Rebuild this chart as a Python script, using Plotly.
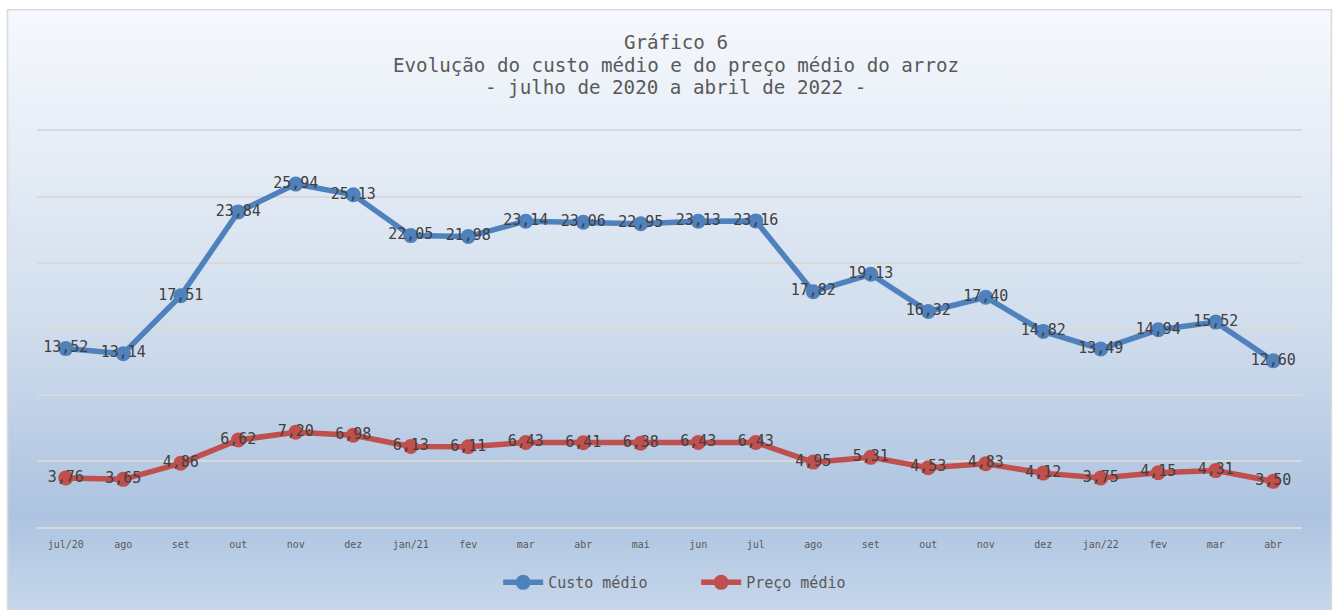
import base64
import plotly.graph_objects as go

categorias = ["jul/20", "ago", "set", "out", "nov", "dez", "jan/21", "fev", "mar", "abr", "mai",
              "jun", "jul", "ago", "set", "out", "nov", "dez", "jan/22", "fev", "mar", "abr"]
custo_medio = [13.52, 13.14, 17.51, 23.84, 25.94, 25.13, 22.05, 21.98, 23.14, 23.06, 22.95,
               23.13, 23.16, 17.82, 19.13, 16.32, 17.40, 14.82, 13.49, 14.94, 15.52, 12.60]
preco_medio = [3.76, 3.65, 4.86, 6.62, 7.20, 6.98, 6.13, 6.11, 6.43, 6.41, 6.38,
               6.43, 6.43, 4.95, 5.31, 4.53, 4.83, 4.12, 3.75, 4.15, 4.31, 3.50]
titulo = ["Gráfico 6", "Evolução do custo médio e do preço médio do arroz", "- julho de 2020 a abril de 2022 -"]

FONT = "DejaVu Sans Mono"
W, H = 1336, 610
PAD = 0.25
PPU = (529 - 130) / 30.0
L, R, T, B = 36.5, 1302.5, 130 - PAD * PPU, 529 + PAD * PPU  # plot area in px
Y0, Y1 = -PAD, 30 + PAD

def px_x(px):
    return (px - L) / (R - L)

def px_y(py):
    return (B - py) / (B - T)

x = list(range(len(categorias)))

fig = go.Figure()
fig.add_trace(go.Scatter(
    x=x, y=custo_medio, name="Custo médio", mode="lines+markers+text",
    line=dict(color="#4f81bd", width=5.5), marker=dict(size=15, color="#4f81bd"),
    texttemplate="%{y:.2f}", textposition="middle center",
    textfont=dict(family=FONT, size=15, color="#404040"), cliponaxis=False, hoverinfo="skip"))
fig.add_trace(go.Scatter(
    x=x, y=preco_medio, name="Preço médio", mode="lines+markers+text",
    line=dict(color="#c0504d", width=5.5), marker=dict(size=15, color="#c0504d"),
    texttemplate="%{y:.2f}", textposition="middle center",
    textfont=dict(family=FONT, size=15, color="#404040"), cliponaxis=False, hoverinfo="skip"))

svg = ('<svg xmlns="http://www.w3.org/2000/svg" width="100" height="100" viewBox="0 0 100 100" '
       'preserveAspectRatio="none"><defs><linearGradient id="g" x1="0" y1="0" x2="0" y2="1">'
       '<stop offset="0" stop-color="#f6f9fd"/><stop offset="0.5" stop-color="#d3dfee"/>'
       '<stop offset="0.84" stop-color="#adc3e0"/>'
       '<stop offset="1" stop-color="#c6d7eb"/></linearGradient></defs>'
       '<rect x="0" y="0" width="100" height="100" fill="url(#g)"/></svg>')
uri = "data:image/svg+xml;base64," + base64.b64encode(svg.encode()).decode()

bx0, bx1, by0, by1 = 7, 1332, 9, 612
fig.add_layout_image(dict(source=uri, xref="paper", yref="paper", x=px_x(bx0), y=px_y(by0),
                          sizex=px_x(bx1) - px_x(bx0), sizey=px_y(by0) - px_y(by1),
                          xanchor="left", yanchor="top", sizing="stretch", layer="below"))
fig.add_shape(type="rect", xref="paper", yref="paper", x0=px_x(bx0), x1=px_x(bx1),
              y0=px_y(by1), y1=px_y(by0), line=dict(color="#d9d9d9", width=1.5), layer="below")

for txt, py in zip(titulo, [42, 65, 87]):
    fig.add_annotation(text=txt, xref="paper", yref="paper", x=px_x(676), y=px_y(py),
                       xanchor="center", yanchor="middle", showarrow=False,
                       font=dict(family=FONT, size=19.2, color="#595959"))

fig.update_layout(
    width=W, height=H, separators=",.",
    margin=dict(l=L, r=W - R, t=T, b=H - B, pad=0),
    paper_bgcolor="white", plot_bgcolor="rgba(0,0,0,0)",
    showlegend=True,
    legend=dict(orientation="h", x=px_x(498), xanchor="left", y=px_y(583), yanchor="middle",
                font=dict(family=FONT, size=15, color="#595959"), bgcolor="rgba(0,0,0,0)",
                itemwidth=40, tracegroupgap=0, entrywidth=143),
    xaxis=dict(range=[-0.5, len(categorias) - 0.5], tickmode="array", tickvals=x, ticktext=categorias,
               showgrid=False, zeroline=False, showline=False, ticks="",
               tickfont=dict(family=FONT, size=10, color="#595959"), ticklabelstandoff=6),
    yaxis=dict(range=[Y0, Y1], tickvals=[0, 5, 10, 15, 20, 25, 30], showticklabels=False,
               showgrid=True, gridcolor="#d9d9d9", gridwidth=1.8, zeroline=False, showline=False),
    hovermode=False,
)

fig.write_html("out.html", config={"displayModeBar": False},
               post_script="document.body.style.margin='0';")
